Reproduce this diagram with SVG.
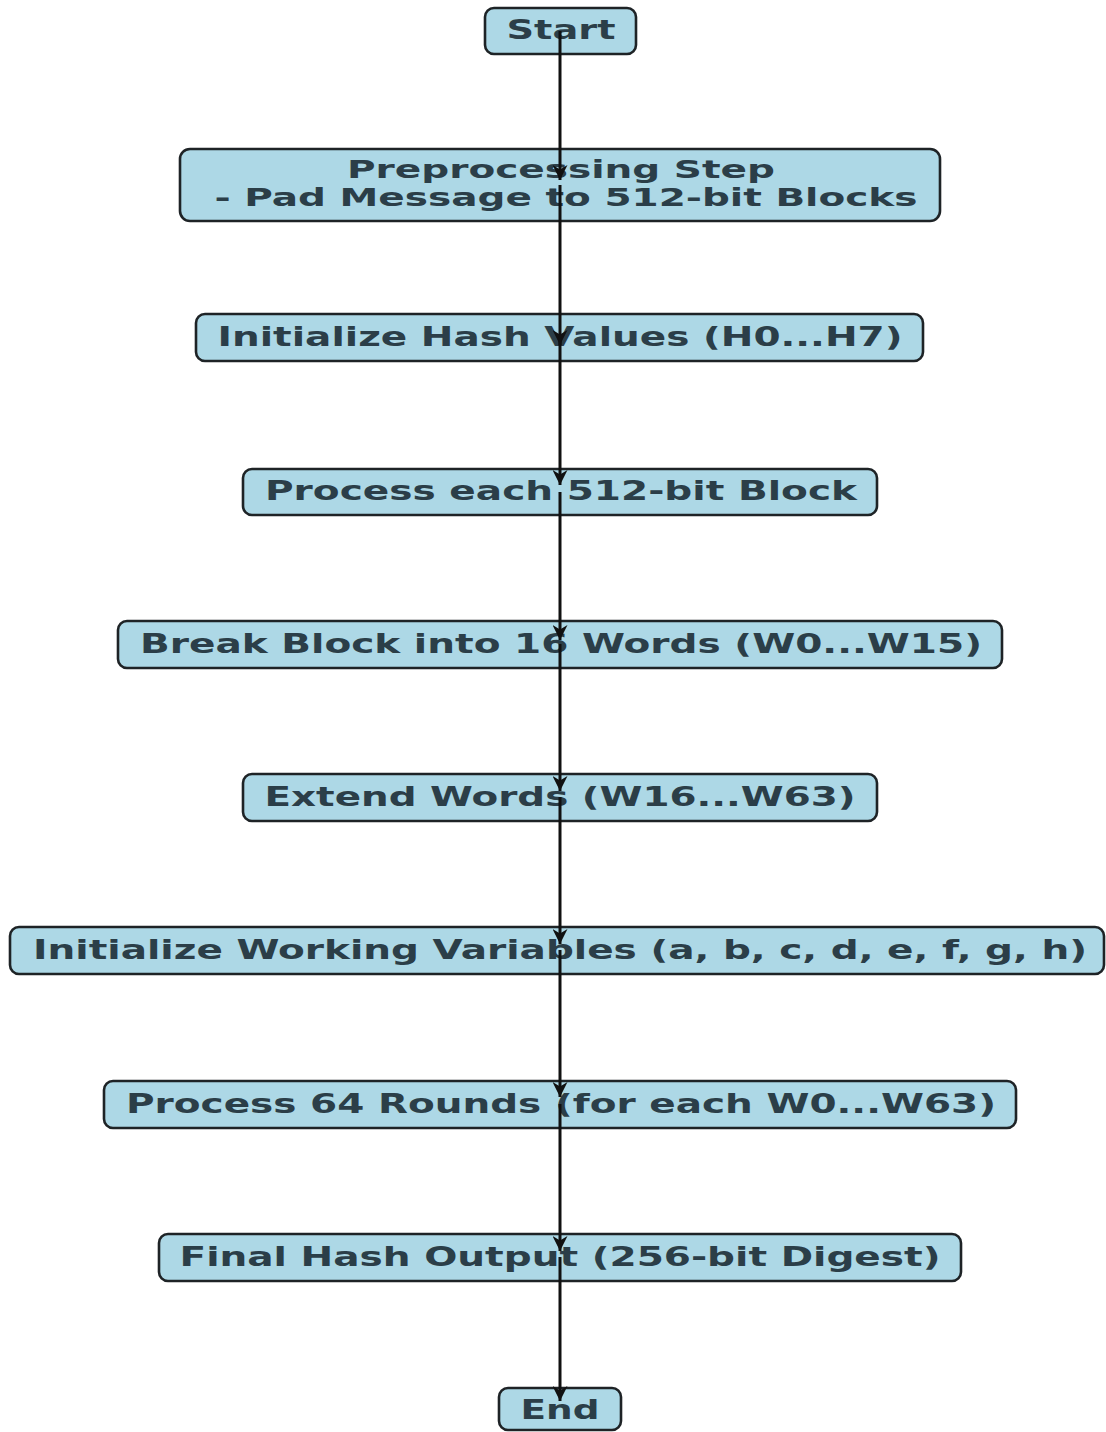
<svg xmlns="http://www.w3.org/2000/svg" width="1106" height="1432" viewBox="0 0 1106 1432">
<style>
.box{fill:#add8e6;stroke:#1e2326;stroke-width:2.6}
.t{font-family:"DejaVu Sans",sans-serif;font-weight:bold;font-size:27px;fill:#2b3e48;text-anchor:middle;dominant-baseline:central}
.t2{font-size:25px}
.e{stroke:#111;stroke-width:3;fill:none;marker-end:url(#ah)}
</style>
<defs>
<marker id="ah" viewBox="0 0 10 10" refX="10" refY="5" markerWidth="5" markerHeight="5" markerUnits="strokeWidth" orient="auto">
<path d="M0,0 L10,5 L0,10 L3,5 Z" fill="#111"/>
</marker>
</defs>
<rect width="1106" height="1432" fill="#ffffff"/>
<g id="n-start"><rect class="box" x="485" y="8" width="151" height="46" rx="9"/><text class="t" x="561" y="29" textLength="109" lengthAdjust="spacingAndGlyphs">Start</text></g>
<g id="n-pre"><rect class="box" x="180" y="149" width="760" height="72" rx="10"/><text class="t t2" x="561" y="169" textLength="428" lengthAdjust="spacingAndGlyphs">Preprocessing Step</text><text class="t t2" x="566" y="197" textLength="703" lengthAdjust="spacingAndGlyphs">- Pad Message to 512-bit Blocks</text></g>
<g id="n-inithash"><rect class="box" x="196" y="314" width="727" height="47" rx="9"/><text class="t" x="560" y="336" textLength="685" lengthAdjust="spacingAndGlyphs">Initialize Hash Values (H0...H7)</text></g>
<g id="n-proceach"><rect class="box" x="243" y="469" width="634" height="46" rx="9"/><text class="t" x="561" y="490" textLength="592" lengthAdjust="spacingAndGlyphs">Process each 512-bit Block</text></g>
<g id="n-break"><rect class="box" x="118" y="621" width="884" height="47" rx="9"/><text class="t" x="561" y="643" textLength="842" lengthAdjust="spacingAndGlyphs">Break Block into 16 Words (W0...W15)</text></g>
<g id="n-extend"><rect class="box" x="243" y="774" width="634" height="47" rx="9"/><text class="t" x="560" y="796" textLength="591" lengthAdjust="spacingAndGlyphs">Extend Words (W16...W63)</text></g>
<g id="n-initwork"><rect class="box" x="10" y="927" width="1094" height="47" rx="9"/><text class="t" x="560" y="949" textLength="1054" lengthAdjust="spacingAndGlyphs">Initialize Working Variables (a, b, c, d, e, f, g, h)</text></g>
<g id="n-rounds"><rect class="box" x="104" y="1081" width="912" height="47" rx="9"/><text class="t" x="561" y="1103" textLength="870" lengthAdjust="spacingAndGlyphs">Process 64 Rounds (for each W0...W63)</text></g>
<g id="n-final"><rect class="box" x="159" y="1234" width="802" height="47" rx="9"/><text class="t" x="560" y="1256" textLength="761" lengthAdjust="spacingAndGlyphs">Final Hash Output (256-bit Digest)</text></g>
<g id="n-end"><rect class="box" x="499" y="1388" width="122" height="42" rx="9"/><text class="t" x="560" y="1409" textLength="79" lengthAdjust="spacingAndGlyphs">End</text></g>
<g id="connectors">
<line class="e" x1="560" y1="31" x2="560" y2="180"/>
<line class="e" x1="560" y1="185" x2="560" y2="345"/>
<line class="e" x1="560" y1="337" x2="560" y2="485"/>
<line class="e" x1="560" y1="492" x2="560" y2="640"/>
<line class="e" x1="560" y1="644" x2="560" y2="791"/>
<line class="e" x1="560" y1="797" x2="560" y2="944"/>
<line class="e" x1="560" y1="950" x2="560" y2="1097"/>
<line class="e" x1="560" y1="1104" x2="560" y2="1251"/>
<line class="e" x1="560" y1="1257" x2="560" y2="1401"/>
</g>
</svg>
